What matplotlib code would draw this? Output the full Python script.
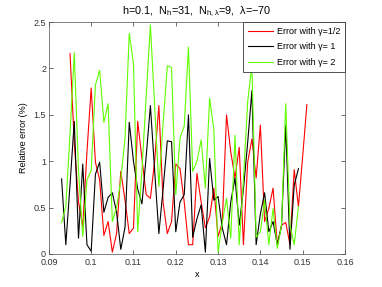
import numpy as np
import matplotlib
matplotlib.use("Agg")
import matplotlib.pyplot as plt

# values, x grid step 0.001
x_red = np.round(np.arange(0.095, 0.1515, 0.001), 3)
err_half = [2.16, 1.2, 0.56, 0.3, 1.1, 1.79, 0.99, 0.8, 0.2, 0.35,
            0.02, 0.22, 0.89, 0.58, 0.22, 0.28, 1.43, 1.03, 0.64, 0.6,
            1.0, 1.6, 0.56, 0.22, 0.35, 0.97, 0.92, 0.56, 0.1, 0.1,
            0.87, 0.56, 0.28, 0.4, 0.71, 0.19, 0.34, 1.5, 1.1, 0.82,
            1.15, 0.1, 0.99, 1.24, 0.82, 1.39, 0.35, 0.49, 0.71, 0.1,
            0.31, 0.34, 0.1, 0.91, 0.51, 1.05, 1.61]

x_black = np.round(np.arange(0.093, 0.1495, 0.001), 3)
err_one = [0.81, 0.1, 0.75, 1.43, 0.17, 0.97, 0.1, 0.03, 0.86, 0.99,
           0.45, 0.61, 0.66, 0.45, 0.05, 0.29, 1.42, 1.0, 0.7, 0.54,
           1.05, 1.6, 0.9, 0.22, 0.7, 1.22, 1.21, 0.24, 0.56, 0.64,
           1.5, 0.18, 0.38, 0.53, 0.02, 1.03, 0.58, 0.62, 0.28, 0.1,
           0.56, 0.82, 0.31, 0.7, 1.2, 1.76, 0.1, 0.43, 0.66, 0.24,
           0.35, 0.1, 0.3, 1.39, 0.05, 0.74, 0.92]

x_green = np.round(np.arange(0.093, 0.1495, 0.001), 3)
err_two = [0.34, 0.51, 1.3, 2.17, 0.9, 0.19, 0.8, 0.9, 1.82, 1.98,
           1.42, 1.62, 0.35, 0.5, 0.8, 1.25, 2.38, 2.05, 0.24, 0.9,
           1.7, 2.47, 1.6, 0.73, 1.4, 2.03, 2.01, 0.64, 1.25, 1.38,
           2.23, 0.89, 1.0, 1.23, 0.71, 1.68, 1.34, 0.02, 0.34, 0.6,
           0.17, 1.28, 0.1, 0.8, 1.64, 2.04, 0.18, 0.24, 0.58, 0.1,
           0.49, 0.06, 0.31, 1.62, 0.31, 0.1, 0.51]

xticks = [0.09, 0.1, 0.11, 0.12, 0.13, 0.14, 0.15, 0.16]
yticks = [0, 0.5, 1, 1.5, 2, 2.5]

plt.rcParams['font.family'] = ['Liberation Sans', 'DejaVu Sans']
plt.rcParams['font.size'] = 6.5
plt.rcParams['mathtext.fontset'] = 'custom'
plt.rcParams['mathtext.rm'] = 'Liberation Sans'
plt.rcParams['mathtext.it'] = 'Liberation Sans'

fig = plt.figure(figsize=(3.82, 2.87), dpi=100)
ax = fig.add_axes([0.128, 0.115, 0.775, 0.808])

ax.plot(x_red, err_half, color='#ff0000', lw=0.8, label='Error with γ=1/2')
ax.plot(x_black, err_one, color='black', lw=0.8, label='Error with γ= 1')
ax.plot(x_green, err_two, color='#5fff00', lw=0.8, label='Error with γ= 2')

ax.set_xlim(0.09, 0.16)
ax.set_ylim(0, 2.5)
ax.set_xticks(xticks)
ax.set_xticklabels(['0.09', '0.1', '0.11', '0.12', '0.13', '0.14', '0.15', '0.16'])
ax.set_yticks(yticks)
ax.set_yticklabels(['0', '0.5', '1', '1.5', '2', '2.5'])
ax.tick_params(direction='in', length=3, width=0.5, top=True, right=True,
               colors='0.2')
ax.tick_params(axis='x', pad=3)
ax.tick_params(axis='y', pad=2)
for s in ax.spines.values():
    s.set_linewidth(0.5)
    s.set_color('0.3')

ax.set_xlabel('x', labelpad=2)
ax.set_ylabel('Relative error (%)', labelpad=4)
ax.set_title(r'h=0.1,  N$_h$=31,  N$_{h,λ}$=9,  λ=−70', pad=6)

leg = ax.legend(loc='upper right', fancybox=False, framealpha=1,
                edgecolor='0.2', borderaxespad=0.0, handlelength=2.8,
                handletextpad=0.4, labelspacing=0.7, borderpad=0.55)
leg.get_frame().set_linewidth(0.6)

fig.savefig('out.png', dpi=100)
